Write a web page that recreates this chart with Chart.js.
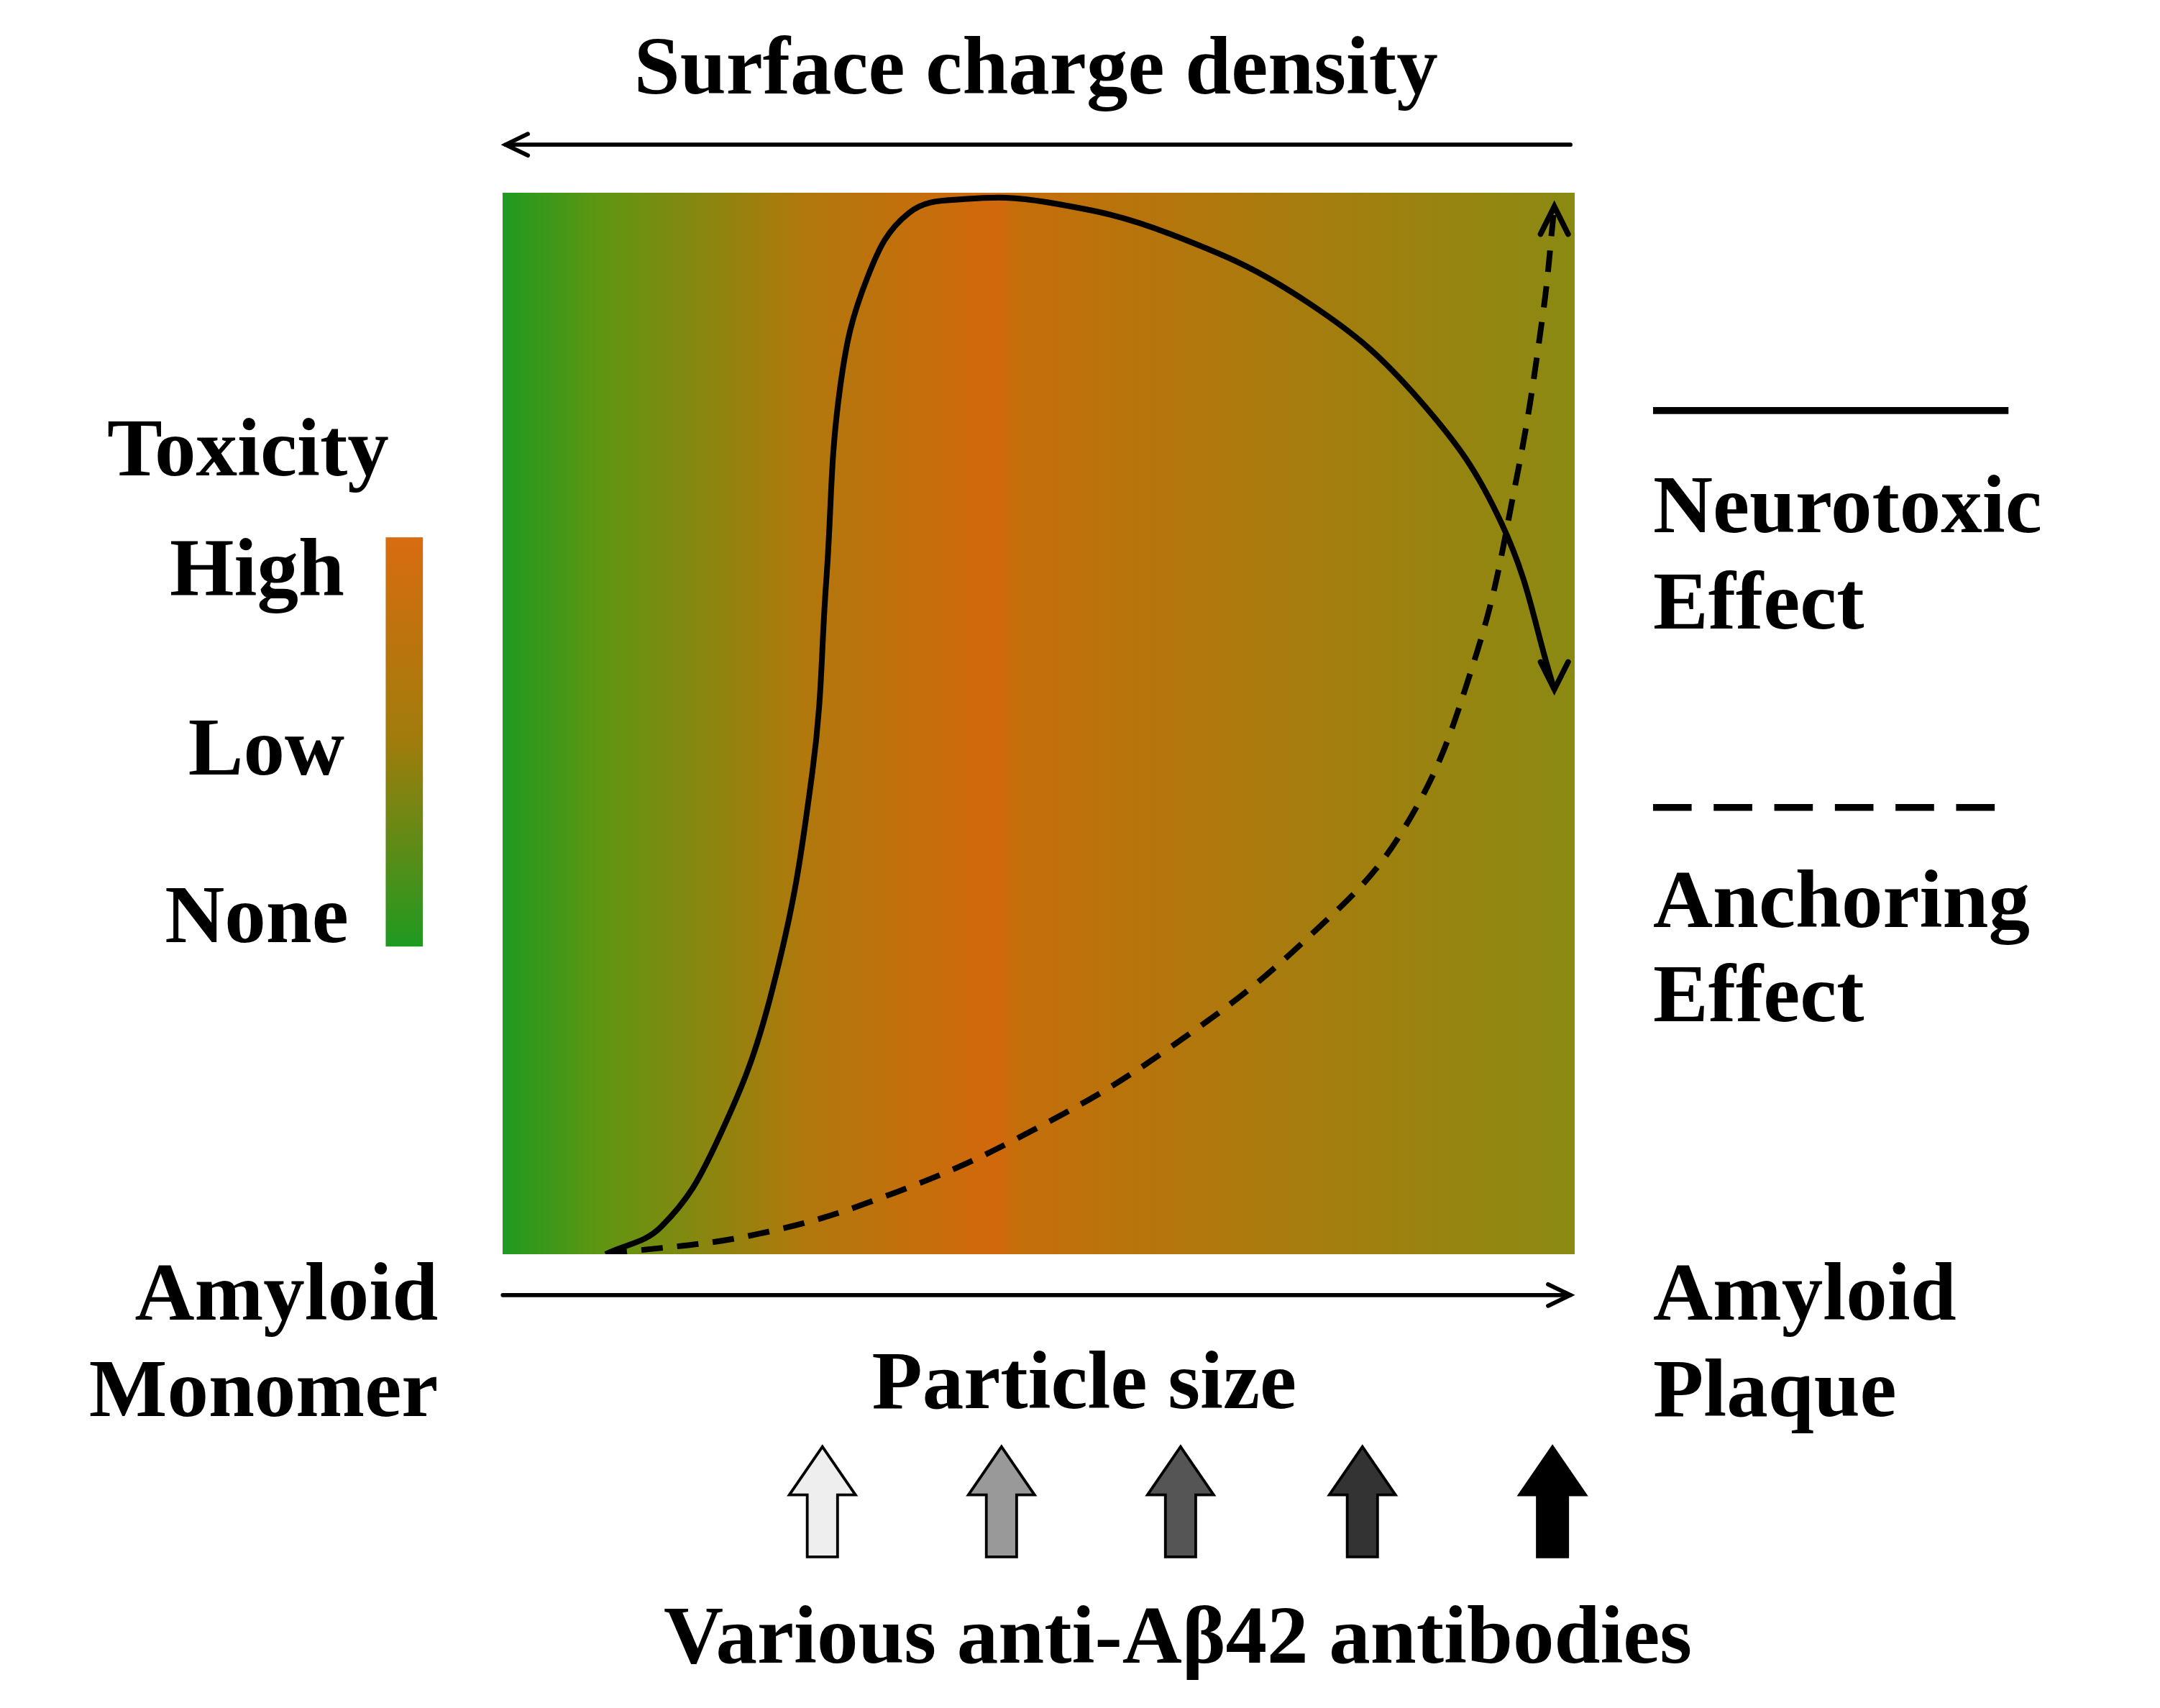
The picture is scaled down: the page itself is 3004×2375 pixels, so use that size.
<!DOCTYPE html>
<html><head><meta charset="utf-8">
<script src="https://cdn.jsdelivr.net/npm/chart.js@4/dist/chart.umd.min.js"></script>
<style>html,body{margin:0;background:#fff}#wrap{width:3004px;height:2375px}</style>
</head><body><div id="wrap"><canvas id="c"></canvas></div>
<script>
// curve data: x = particle size (0-100), y = effect (0-100)
const neuroX = [9.6, 14.8, 19.9, 25.1, 28.9, 30.2, 31.5, 34.1, 37.9, 43.1, 50.8, 62.3, 75.2, 85.5, 93.2, 98.1];
const neuroY = [0, 2.6, 10.4, 24.7, 45.5, 63.6, 81.8, 92.2, 98.1, 99.4, 99.1, 96.1, 89.6, 80.5, 68.8, 53.2];
const anchorX = [9.6, 23.8, 36.6, 49.5, 62.3, 75.2, 84.2, 90.6, 94.5, 97.0, 98.1];
const anchorY = [0, 1.9, 5.8, 11.7, 19.5, 29.9, 40.3, 55.8, 72.7, 88.3, 98.7];
const antibodyFills = ['#eeeeee', '#999999', '#555555', '#333333', '#000000'];
const antibodyX = [597, 727, 857, 989, 1127];

const s = 3004 / 1568;
const F = n => 'bold ' + Math.round(n * s) + 'px "Liberation Serif", "DejaVu Serif", serif';

function arrowLine(ctx, x1, y1, x2, y2) {
    ctx.beginPath(); ctx.moveTo(x1*s, y1*s); ctx.lineTo(x2*s, y2*s); ctx.stroke();
    const a = Math.atan2(y2-y1, x2-x1), h = 18*s;
    ctx.beginPath();
    ctx.moveTo(x2*s - h*Math.cos(a-0.45), y2*s - h*Math.sin(a-0.45));
    ctx.lineTo(x2*s, y2*s);
    ctx.lineTo(x2*s - h*Math.cos(a+0.45), y2*s - h*Math.sin(a+0.45));
    ctx.stroke();
}

const decor = {
    id: 'decor',
    beforeDatasetsDraw(chart) {
        const {ctx, chartArea: a} = chart;
        const g = ctx.createLinearGradient(a.left, 0, a.right, 0);
        g.addColorStop(0, '#1f9a20'); g.addColorStop(0.09, '#5f9612');
        g.addColorStop(0.28, '#b0780c'); g.addColorStop(0.46, '#d2680c');
        g.addColorStop(0.48, '#c46e0a'); g.addColorStop(1, '#8a8a12');
        ctx.fillStyle = g; ctx.fillRect(a.left, a.top, a.right - a.left, a.bottom - a.top);
    },
    afterDatasetsDraw(chart) {
        const {ctx} = chart;
        const xs = chart.scales.x, ys = chart.scales.y;
        ctx.save();
        ctx.strokeStyle = '#000'; ctx.lineWidth = 5*s/1.9; ctx.lineCap = 'round';
        // curve arrow heads
        const head = (X, Y, dir) => {
            const px = xs.getPixelForValue(X[X.length-1]), py = ys.getPixelForValue(Y[Y.length-1]);
            const h = 20*s;
            ctx.beginPath();
            ctx.moveTo(px - 10*s, py - dir*h); ctx.lineTo(px, py); ctx.lineTo(px + 10*s, py - dir*h);
            ctx.stroke();
        };
        ctx.lineWidth = 4*s;
        head(neuroX, neuroY, 1);
        head(anchorX, anchorY, -1);
        // axis arrows
        ctx.lineWidth = 3*s;
        arrowLine(ctx, 1140, 105, 367, 105);
        arrowLine(ctx, 365, 940, 1140, 940);
        // texts
        ctx.fillStyle = '#000'; ctx.textBaseline = 'alphabetic';
        ctx.font = F(60);
        ctx.textAlign = 'center';
        ctx.fillText('Surface charge density', 752*s, 68*s);
        ctx.fillText('Particle size', 787*s, 1022*s);
        ctx.fillText('Various anti-A\u03b242 antibodies', 855*s, 1207*s);
        ctx.fillText('Toxicity', 180*s, 345*s);
        ctx.textAlign = 'right';
        ctx.fillText('Amyloid', 318*s, 958*s);
        ctx.fillText('Monomer', 318*s, 1028*s);
        ctx.fillText('High', 250*s, 432*s);
        ctx.fillText('Low', 250*s, 562*s);
        ctx.fillText('None', 253*s, 684*s);
        ctx.textAlign = 'left';
        ctx.fillText('Amyloid', 1200*s, 958*s);
        ctx.fillText('Plaque', 1200*s, 1028*s);
        ctx.fillText('Neurotoxic', 1200*s, 386*s);
        ctx.fillText('Effect', 1200*s, 456*s);
        ctx.fillText('Anchoring', 1200*s, 673*s);
        ctx.fillText('Effect', 1200*s, 741*s);
        // colour bar
        const cb = ctx.createLinearGradient(0, 390*s, 0, 687*s);
        cb.addColorStop(0, '#d86c10'); cb.addColorStop(0.5, '#a07c0c'); cb.addColorStop(1, '#1f9a20');
        ctx.fillStyle = cb; ctx.fillRect(280*s, 390*s, 27*s, 297*s);
        // legend lines
        ctx.lineCap = 'butt'; ctx.lineWidth = 5*s;
        ctx.beginPath(); ctx.moveTo(1200*s, 298*s); ctx.lineTo(1458*s, 298*s); ctx.stroke();
        ctx.setLineDash([28*s, 16*s]);
        ctx.beginPath(); ctx.moveTo(1200*s, 586*s); ctx.lineTo(1450*s, 586*s); ctx.stroke();
        ctx.setLineDash([]);
        // antibody block arrows
        ctx.lineWidth = 2*s;
        antibodyX.forEach((cx, i) => {
            ctx.beginPath();
            ctx.moveTo(cx*s, 1050*s);
            ctx.lineTo((cx+24)*s, 1085*s); ctx.lineTo((cx+11)*s, 1085*s);
            ctx.lineTo((cx+11)*s, 1130*s); ctx.lineTo((cx-11)*s, 1130*s);
            ctx.lineTo((cx-11)*s, 1085*s); ctx.lineTo((cx-24)*s, 1085*s);
            ctx.closePath();
            ctx.fillStyle = antibodyFills[i]; ctx.fill(); ctx.stroke();
        });
        ctx.restore();
    }
};

const toPts = (X, Y) => X.map((x, i) => ({x: x, y: Y[i]}));

new Chart(document.getElementById('c'), {
    type: 'scatter',
    data: {
        datasets: [
            { label: 'Neurotoxic Effect', data: toPts(neuroX, neuroY), showLine: true, tension: 0.4,
              borderColor: '#000', borderWidth: 8, pointRadius: 0 },
            { label: 'Anchoring Effect', data: toPts(anchorX, anchorY), showLine: true, tension: 0.4,
              borderColor: '#000', borderWidth: 8, borderDash: [30, 20], pointRadius: 0 }
        ]
    },
    options: {
        responsive: true,
        maintainAspectRatio: false,
        animation: false,
        layout: { padding: { left: 699, top: 268, right: 814, bottom: 631 } },
        scales: {
            x: { type: 'linear', min: 0, max: 100, display: false },
            y: { min: 0, max: 100, display: false }
        },
        plugins: { legend: { display: false }, tooltip: { enabled: false } }
    },
    plugins: [decor]
});
</script></body></html>
